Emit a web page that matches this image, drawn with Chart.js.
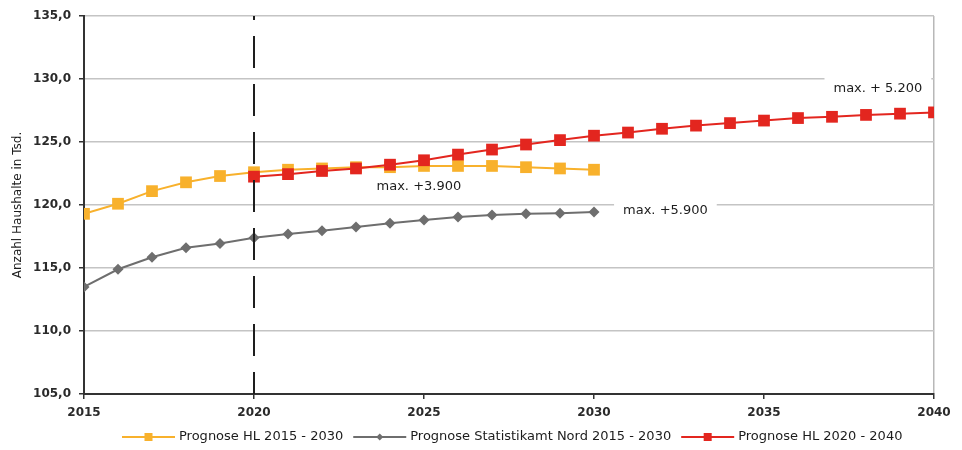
<!DOCTYPE html>
<html>
<head>
<meta charset="utf-8">
<title>Haushaltsprognose</title>
<script src="https://cdn.jsdelivr.net/npm/chart.js@4/dist/chart.umd.min.js"></script>
<style>
  html, body { margin: 0; padding: 0; background: #fff; }
  #myChart { display: block; }
</style>
</head>
<body>
<canvas id="myChart" width="962" height="450"></canvas>
<script>
// Jahre und Werte (Haushalte in Tsd.)
var yearsShort = [2015, 2016, 2017, 2018, 2019, 2020, 2021, 2022, 2023, 2024, 2025, 2026, 2027, 2028, 2029, 2030];
var yearsLong = [2020, 2021, 2022, 2023, 2024, 2025, 2026, 2027, 2028, 2029, 2030,
                 2031, 2032, 2033, 2034, 2035, 2036, 2037, 2038, 2039, 2040];

var hl2015 = [119.3, 120.1, 121.1, 121.8, 122.3, 122.6, 122.8, 122.9, 123.0, 123.0, 123.1, 123.1, 123.1, 123.0, 122.9, 122.8];
var statNord = [113.5, 114.9, 115.85, 116.6, 116.95, 117.4, 117.7, 117.95, 118.25, 118.55, 118.8, 119.05, 119.2, 119.3, 119.35, 119.45];
var hl2020 = [122.25, 122.45, 122.7, 122.9, 123.2, 123.55, 124.0, 124.4, 124.8, 125.15, 125.5,
              125.75, 126.05, 126.3, 126.5, 126.7, 126.9, 127.0, 127.15, 127.25, 127.35];

var seriesNames = ['Prognose HL 2015 - 2030', 'Prognose Statistikamt Nord 2015 - 2030', 'Prognose HL 2020 - 2040'];

var yTicks = [105, 110, 115, 120, 125, 130, 135];
var xTicks = [2015, 2020, 2025, 2030, 2035, 2040];

var notes = [
  { text: 'max. +3.900', year: 2024.85, value: 121.5 },
  { text: 'max. +5.900', year: 2032.1, value: 119.6 },
  { text: 'max. + 5.200', year: 2038.35, value: 129.3 }
];

var FONT = '"DejaVu Sans", sans-serif';

function pairs(xs, ys) {
  return xs.map(function (x, i) { return { x: x, y: ys[i] }; });
}

// gestrichelte Linie bei 2020
var markerLine = {
  id: 'markerLine',
  afterDatasetsDraw: function (chart) {
    var ctx = chart.ctx, a = chart.chartArea;
    var px = Math.round(chart.scales.x.getPixelForValue(2020));
    ctx.save();
    ctx.strokeStyle = '#1e1e1e';
    ctx.lineWidth = 2;
    ctx.setLineDash([32, 16]);
    ctx.lineDashOffset = 28;
    ctx.beginPath();
    ctx.moveTo(px, a.top);
    ctx.lineTo(px, a.bottom);
    ctx.stroke();
    ctx.restore();
  }
};

// Textfelder mit weissem Hintergrund
var noteLabels = {
  id: 'noteLabels',
  afterDatasetsDraw: function (chart) {
    var ctx = chart.ctx;
    ctx.save();
    ctx.font = '13px ' + FONT;
    ctx.textAlign = 'center';
    ctx.textBaseline = 'middle';
    notes.forEach(function (n) {
      var px = chart.scales.x.getPixelForValue(n.year);
      var py = chart.scales.y.getPixelForValue(n.value);
      var w = ctx.measureText(n.text).width;
      ctx.fillStyle = '#fff';
      ctx.fillRect(px - w / 2 - 9, py - 12, w + 18, 24);
      ctx.fillStyle = '#1c1c1c';
      ctx.fillText(n.text, px, py + 1);
    });
    ctx.restore();
  }
};

// Legende unten: Linie mit Marker + Text
var bottomLegend = {
  id: 'bottomLegend',
  afterDraw: function (chart) {
    var ctx = chart.ctx;
    var x = 122, y = 437;
    ctx.save();
    ctx.font = '13px ' + FONT;
    ctx.textBaseline = 'middle';
    ctx.textAlign = 'left';
    chart.data.datasets.forEach(function (ds) {
      ctx.strokeStyle = ds.borderColor;
      ctx.fillStyle = ds.borderColor;
      ctx.lineWidth = 2;
      ctx.beginPath();
      ctx.moveTo(x, y);
      ctx.lineTo(x + 53, y);
      ctx.stroke();
      var cx = x + 26.5;
      if (ds.pointStyle === 'rectRot') {
        ctx.beginPath();
        ctx.moveTo(cx, y - 3.5);
        ctx.lineTo(cx + 3.5, y);
        ctx.lineTo(cx, y + 3.5);
        ctx.lineTo(cx - 3.5, y);
        ctx.closePath();
        ctx.fill();
      } else {
        ctx.fillRect(cx - 4, y - 4, 8, 8);
      }
      ctx.fillStyle = '#1c1c1c';
      ctx.fillText(ds.label, x + 57, y);
      x += 57 + ctx.measureText(ds.label).width + 10;
    });
    ctx.restore();
  }
};

var canvasP = document.getElementById('myChart');
var ctxP = canvasP.getContext('2d');

var myChart = new Chart(ctxP, {
  type: 'line',
  data: {
    datasets: [{
      label: seriesNames[0],
      data: pairs(yearsShort, hl2015),
      borderColor: '#f8b12c',
      backgroundColor: '#f8b12c',
      pointStyle: 'rect',
      pointRadius: 8.3,
      order: 2
    }, {
      label: seriesNames[1],
      data: pairs(yearsShort, statNord),
      borderColor: '#6e6e6e',
      backgroundColor: '#6e6e6e',
      pointStyle: 'rectRot',
      pointRadius: 5.5,
      order: 1
    }, {
      label: seriesNames[2],
      data: pairs(yearsLong, hl2020),
      borderColor: '#e3261f',
      backgroundColor: '#e3261f',
      pointStyle: 'rect',
      pointRadius: 8.3,
      order: 0
    }]
  },
  options: {
    responsive: false,
    animation: false,
    events: [],
    devicePixelRatio: 1,
    layout: { padding: { top: 16, right: 28, bottom: 30, left: 0 } },
    elements: {
      line: { borderWidth: 2, tension: 0, fill: false },
      point: { borderWidth: 0, hoverRadius: 0 }
    },
    plugins: {
      legend: { display: false },
      tooltip: { enabled: false }
    },
    scales: {
      x: {
        type: 'linear',
        min: 2015,
        max: 2040,
        afterBuildTicks: function (scale) {
          scale.ticks = xTicks.map(function (v) { return { value: v }; });
        },
        afterFit: function (scale) { scale.height = 26; },
        ticks: {
          padding: 7,
          maxRotation: 0,
          color: '#2a2a2a',
          font: { family: FONT, size: 12, weight: 'bold' },
          callback: function (v) { return String(v); }
        },
        grid: {
          color: function (c) {
            return c.tick && c.tick.value === 2040 ? '#b8b8b8' : 'rgba(0,0,0,0)';
          },
          lineWidth: 1.5,
          tickColor: '#333',
          tickLength: 5
        },
        border: { color: '#333', width: 2 }
      },
      y: {
        min: 105,
        max: 135,
        afterBuildTicks: function (scale) {
          scale.ticks = yTicks.map(function (v) { return { value: v }; });
        },
        afterFit: function (scale) { scale.width = 84; },
        title: {
          display: true,
          text: 'Anzahl Haushalte in Tsd.',
          color: '#1c1c1c',
          font: { family: FONT, size: 12 },
          padding: { top: 11, bottom: 0 }
        },
        ticks: {
          padding: 8,
          color: '#2a2a2a',
          font: { family: FONT, size: 12, weight: 'bold' },
          callback: function (v) { return v.toFixed(1).replace('.', ','); }
        },
        grid: {
          color: '#c4c4c4',
          lineWidth: 1.5,
          tickColor: '#333',
          tickLength: 5
        },
        border: { color: '#333', width: 2 }
      }
    }
  },
  plugins: [markerLine, noteLabels, bottomLegend]
});
</script>
</body>
</html>
